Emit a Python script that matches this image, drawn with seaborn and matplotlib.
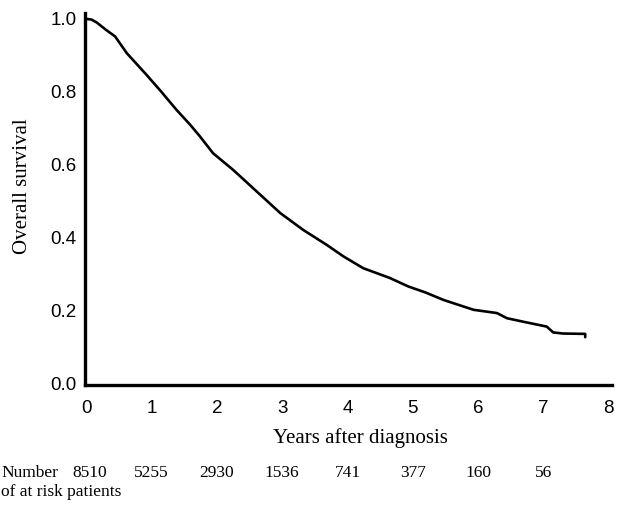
import matplotlib
matplotlib.use("Agg")
import matplotlib.pyplot as plt
import matplotlib.transforms as mtransforms
import seaborn as sns
import pandas as pd

# Kaplan-Meier curve
years = [0, 0.08, 0.16, 0.30, 0.44, 0.62, 0.92, 1.15, 1.38, 1.59, 1.74, 1.94,
         2.25, 2.61, 2.97, 3.32, 3.68, 3.94, 4.24, 4.65, 4.93, 5.20, 5.47,
         5.93, 6.29, 6.44, 6.70, 7.05, 7.15, 7.30, 7.64, 7.64]
survival = [1.0, 0.998, 0.99, 0.97, 0.952, 0.906, 0.847, 0.800, 0.751, 0.710,
            0.678, 0.632, 0.586, 0.527, 0.468, 0.422, 0.381, 0.349, 0.317,
            0.290, 0.267, 0.250, 0.230, 0.203, 0.194, 0.180, 0.170, 0.157,
            0.141, 0.138, 0.137, 0.128]

# Number at risk table
risk_years = [0, 1, 2, 3, 4, 5, 6, 7]
risk_counts = ["8510", "5255", "2930", "1536", "741", "377", "160", "56"]

x_ticks = [0, 1, 2, 3, 4, 5, 6, 7, 8]
y_ticks = [0.0, 0.2, 0.4, 0.6, 0.8, 1.0]
y_tick_labels = ["0.0", "0.2", "0.4", "0.6", "0.8", "1.0"]

sns.set_theme(style="white")
plt.rcParams["font.family"] = ["Liberation Sans", "DejaVu Sans"]

df = pd.DataFrame({"years": years, "survival": survival})

fig = plt.figure(figsize=(6.24, 5.05), dpi=100)
W, H = 624, 505
ax = fig.add_axes([85 / W, (H - 385) / H, (612 - 85) / W, (385 - 13) / H])

sns.lineplot(data=df, x="years", y="survival", ax=ax, color="black",
             linewidth=1.9, sort=False, estimator=None)

ax.set_xlim(-0.02, 8.05)
ax.set_ylim(-0.003, 1.016)
ax.set_xticks(x_ticks)
ax.set_xticklabels([str(t) for t in x_ticks])
ax.set_yticks(y_ticks)
ax.set_yticklabels(y_tick_labels)
ax.tick_params(axis="both", length=0, labelsize=13.5, colors="black")
ax.tick_params(axis="x", pad=11)
ax.tick_params(axis="y", pad=6)
ax.set_xlabel("")
ax.set_ylabel("")
for s in ["top", "right"]:
    ax.spines[s].set_visible(False)
for s in ["left", "bottom"]:
    ax.spines[s].set_linewidth(2.4)
    ax.spines[s].set_color("black")

serif = ["Liberation Serif", "DejaVu Serif"]
fig.text(23 / W, 1 - 186 / H, "Overall survival", rotation=90, ha="center",
         va="center", fontsize=15, family=serif, color="black")
fig.text(360 / W, 1 - 438 / H, "Years after diagnosis", ha="center",
         va="center", fontsize=15, family=serif, color="black")

trans = mtransforms.blended_transform_factory(ax.transData, fig.transFigure)
for yr, cnt in zip(risk_years, risk_counts):
    ax.text(yr + (0.05 if yr == 0 else 0), 1 - 473 / H, cnt, transform=trans,
            ha="center", va="center", fontsize=12.5, family=serif,
            color="black", clip_on=False)

fig.text(1 / W, 1 - 473 / H, "Number", ha="left", va="center",
         fontsize=12.5, family=serif, color="black")
fig.text(1 / W, 1 - 492 / H, "of at risk patients", ha="left", va="center",
         fontsize=12.5, family=serif, color="black")

fig.savefig("out.png", dpi=100)
